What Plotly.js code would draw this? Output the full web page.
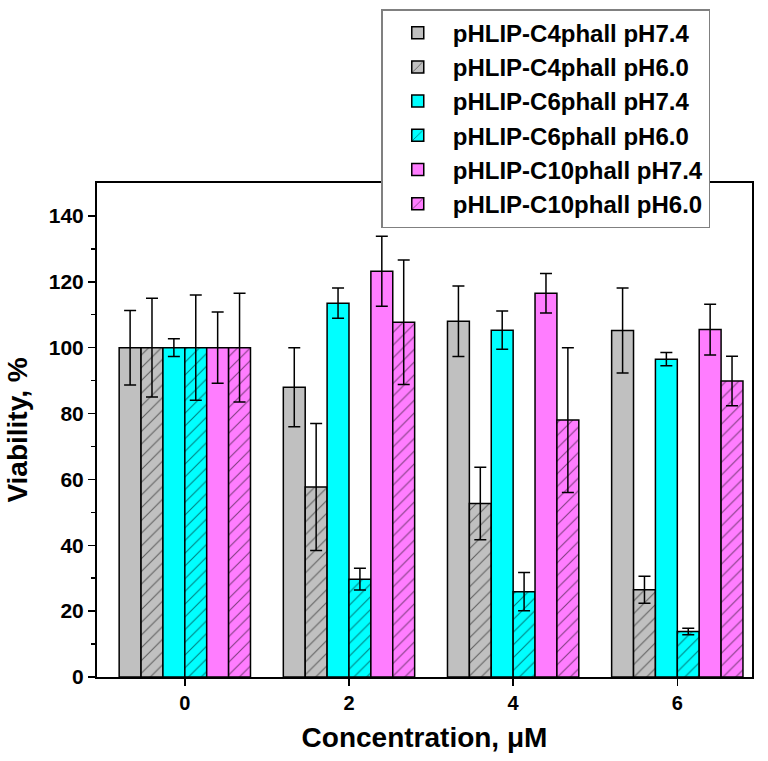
<!DOCTYPE html>
<html>
<head>
<meta charset="utf-8">
<script src="https://cdn.plot.ly/plotly-3.0.1.min.js"></script>
<style>html,body{margin:0;padding:0;background:#fff}#chart{width:768px;height:761px}</style>
</head>
<body>
<div id="chart"></div>
<script>
const concentrations = [0, 2, 4, 6];
const tickLabels = ["0", "2", "4", "6"];
const seriesNames = ["pHLIP-C4phall pH7.4", "pHLIP-C4phall pH6.0", "pHLIP-C6phall pH7.4", "pHLIP-C6phall pH6.0", "pHLIP-C10phall pH7.4", "pHLIP-C10phall pH6.0"];
const c4_74 = [100, 88, 108, 105.2];
const c4_60 = [100, 57.7, 52.7, 26.5];
const c6_74 = [100, 113.5, 105.3, 96.5];
const c6_60 = [100, 29.7, 25.9, 13.8];
const c10_74 = [100, 123.2, 116.5, 105.5];
const c10_60 = [100, 107.7, 78, 89.9];
const c4_74_err = [11.3, 12, 10.7, 12.9];
const c4_60_err = [15, 19.3, 11, 4.1];
const c6_74_err = [2.7, 4.6, 5.8, 2];
const c6_60_err = [16, 3.3, 5.8, 1];
const c10_74_err = [10.8, 10.6, 6, 7.7];
const c10_60_err = [16.5, 18.9, 22, 7.5];

const seriesValues = [c4_74, c4_60, c6_74, c6_60, c10_74, c10_60];
const seriesErrors = [c4_74_err, c4_60_err, c6_74_err, c6_60_err, c10_74_err, c10_60_err];
const fills = ["#c0c0c0", "#c0c0c0", "#00ffff", "#00ffff", "#ff7dff", "#ff7dff"];
const hatched = [false, true, false, true, false, true];

const FONT = "Arial, 'Liberation Sans', sans-serif";

const traces = seriesNames.map((name, i) => ({
  type: "bar",
  name: name,
  legendgroup: "g" + i,
  x: concentrations,
  y: seriesValues[i],
  marker: {
    color: fills[i],
    line: {color: "#000", width: 1.5},
    pattern: hatched[i] ? {shape: "/", fgcolor: "#000", bgcolor: fills[i], size: 9, solidity: 0.12, fillmode: "overlay"} : {shape: ""}
  },
  error_y: {type: "data", array: seriesErrors[i], visible: true, color: "#000", thickness: 1.5, width: 6}
}));

const layout = {
  width: 768, height: 761,
  margin: {l: 97, r: 16, t: 183, b: 84, autoexpand: false},
  paper_bgcolor: "#fff", plot_bgcolor: "#fff",
  font: {family: FONT, color: "#000"},
  barmode: "group",
  bargap: 0.2,
  bargroupgap: 0,
  showlegend: true,
  legend: {
    x: 0.434, y: 1.352, xanchor: "left", yanchor: "top",
    bgcolor: "#fff", bordercolor: "#808080", borderwidth: 1.5,
    font: {family: FONT, size: 24, weight: "bold", color: "#000"},
    traceorder: "normal", tracegroupgap: 0,
    itemwidth: 60
  },
  xaxis: {
    range: [-1.07, 6.91],
    tickvals: concentrations, ticktext: tickLabels,
    ticks: "outside", ticklen: 7, tickwidth: 1.5, tickcolor: "#000",
    showline: true, linecolor: "#000", linewidth: 2, mirror: true,
    showgrid: false, zeroline: false,
    tickfont: {family: FONT, size: 20, weight: "bold"},
    title: {text: "Concentration, μM", font: {family: FONT, size: 28, weight: "bold"}, standoff: 14}
  },
  yaxis: {
    range: [0, 150],
    tickvals: [0, 20, 40, 60, 80, 100, 120, 140],
    ticks: "outside", ticklen: 7, tickwidth: 1.5, tickcolor: "#000",
    minor: {tickvals: [10, 30, 50, 70, 90, 110, 130], ticks: "outside", ticklen: 4, tickwidth: 1.5, tickcolor: "#000"},
    showline: true, linecolor: "#000", linewidth: 2, mirror: true,
    showgrid: false, zeroline: false,
    tickfont: {family: FONT, size: 21, weight: "bold"},
    title: {text: "Viability, %", font: {family: FONT, size: 28, weight: "bold"}, standoff: 13}
  }
};

Plotly.newPlot("chart", traces, layout, {displayModeBar: false, staticPlot: true});
</script>
</body>
</html>
